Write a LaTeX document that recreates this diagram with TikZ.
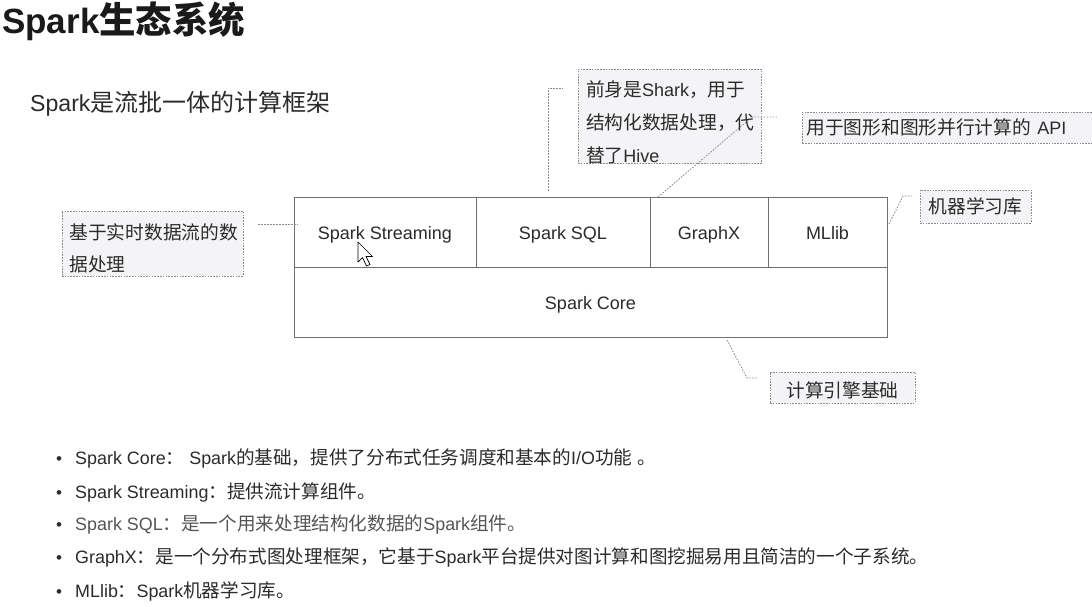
\documentclass[tikz,border=0pt]{standalone}
\usepackage{fontspec}
\setmainfont{Liberation Sans}
\newfontfamily\cjk[Scale=1.04]{Noto Sans CJK SC}
\newcommand\zh[1]{{\cjk #1}}
\newcommand\setfs[2]{\fontsize{#1}{#2}\selectfont}
\newcommand\upstrut[1]{\rule{0pt}{#1}}
\definecolor{txt}{HTML}{2B2B2B}
\definecolor{titlec}{HTML}{1A1A1A}
\definecolor{boxbd}{HTML}{6E6E6E}
\definecolor{notebd}{HTML}{8C8C8C}
\definecolor{notefill}{HTML}{F4F3F6}
\definecolor{connc}{HTML}{8C8C8C}
\definecolor{sqlc}{HTML}{555555}
\tikzset{
  cell/.style={draw=boxbd, line width=1pt, inner sep=0pt, minimum height=70pt,
    font=\setfs{18}{18}, text=txt, text height=17pt, text depth=2pt},
  note/.style={draw=notebd, fill=notefill, dash pattern=on 1.6pt off 1.2pt,
    line width=0.8pt, inner sep=0pt, font=\setfs{18}{18}\cjk, text=txt},
  conn/.style={draw=connc, line width=0.8pt, dash pattern=on 1.6pt off 1.4pt},
  bullettext/.style={anchor=base west, inner sep=0pt, font=\setfs{17.9}{17.9}, text=txt},
  dotmark/.style={anchor=base west, inner sep=0pt, font=\setfs{17}{17}, text=txt}
}
\begin{document}
\begin{tikzpicture}[x=1pt,y=-1pt]
\useasboundingbox[fill=white] (0,0) rectangle (1092,607);

% title and subtitle
\node[anchor=base west, inner sep=0pt, font=\setfs{35}{35}\bfseries, text=titlec]
  (title) at (2,34) {Spark{\cjk\bfseries 生态系统}};
\node[anchor=base west, inner sep=0pt, font=\setfs{23.1}{23.1}, text=txt]
  (subtitle) at (30,112) {Spark\zh{是流批一体的计算框架}};

% main diagram
\node[cell, minimum width=182pt] (stream) at (385,232) {Spark Streaming};
\node[cell, minimum width=174pt] (sql) at (563,232) {Spark SQL};
\node[cell, minimum width=118pt] (graphx) at (709,232) {GraphX};
\node[cell, minimum width=119pt] (mllib) at (827.5,232) {MLlib};
\node[cell, minimum width=593pt] (core) at (590.5,302) {Spark Core};

% mouse pointer
\draw[black, fill=white, line width=0.7pt, line join=round]
  (358,242) -- (358,262) -- (362.5,257.5) -- (366.5,266) -- (370,264.5)
  -- (366,256.5) -- (372.5,256.5) -- cycle;

% notes
\node[note, minimum width=181pt, minimum height=65pt, text width=166pt, align=left,
  font=\setfs{18}{32}\cjk] (nstream) at (152.5,243.5)
  {\upstrut{26pt}基于实时数据流的数\\据处理};
\node[note, minimum width=183pt, minimum height=93pt, text width=167pt, align=left,
  font=\setfs{18}{33}\cjk] (nsql) at (669.5,116.5)
  {\upstrut{27pt}前身是{\fontspec{Liberation Sans}Shark}，用于\\结构化数据处理，代\\替了{\fontspec{Liberation Sans}Hive}};
\node[note, anchor=west, minimum width=300pt, minimum height=31pt, text width=292pt,
  align=left] (ngraphx) at (802,127.5)
  {用于图形和图形并行计算的{\fontspec{Liberation Sans}\ API}};
\node[note, minimum width=111pt, minimum height=33pt] (nmllib) at (975.5,206.5) {机器学习库};
\node[note, minimum width=145pt, minimum height=31pt] (ncore) at (842.5,387.5) {\upstrut{21pt}计算引擎基础};

% connector end points
\coordinate (s1) at (258,224);
\coordinate (s2) at (298,224);
\coordinate (q1) at (548,191);
\coordinate (q2) at (563,88);
\coordinate (g1) at (658,197);
\coordinate (g2) at (752,117);
\coordinate (g3) at (778,117);
\coordinate (m1) at (889,224);
\coordinate (m2) at (903,196);
\coordinate (m3) at (912,196);
\coordinate (k1) at (727,340);
\coordinate (k2) at (747,378);
\coordinate (k3) at (758,378);

\draw[conn] (s1) -- (s2);
\draw[conn] (q1) |- (q2);
\draw[conn] (g1) -- (g2) -- (g3);
\draw[conn] (m1) -- (m2) -- (m3);
\draw[conn] (k1) -- (k2) -- (k3);

% bullet list
\node[dotmark] (d1) at (56,464) {•};
\node[dotmark] (d2) at (56,498) {•};
\node[dotmark] (d3) at (56,530) {•};
\node[dotmark] (d4) at (56,563) {•};
\node[dotmark] (d5) at (56,597) {•};
\node[bullettext] (b1) at (75,464.5)
  {Spark Core\zh{：}~Spark\zh{的基础，提供了分布式任务调度和基本的}I/O\zh{功能}~\zh{。}};
\node[bullettext] (b2) at (75,498.5)
  {Spark Streaming\zh{：提供流计算组件。}};
\node[bullettext, text=sqlc] (b3) at (75,530.5)
  {Spark SQL\zh{：是一个用来处理结构化数据的}Spark\zh{组件。}};
\node[bullettext] (b4) at (75,563.5)
  {GraphX\zh{：是一个分布式图处理框架，它基于}Spark\zh{平台提供对图计算和图挖掘易用且简洁的一个子系统。}};
\node[bullettext] (b5) at (75,597.5)
  {MLlib\zh{：}Spark\zh{机器学习库。}};
\end{tikzpicture}
\end{document}
